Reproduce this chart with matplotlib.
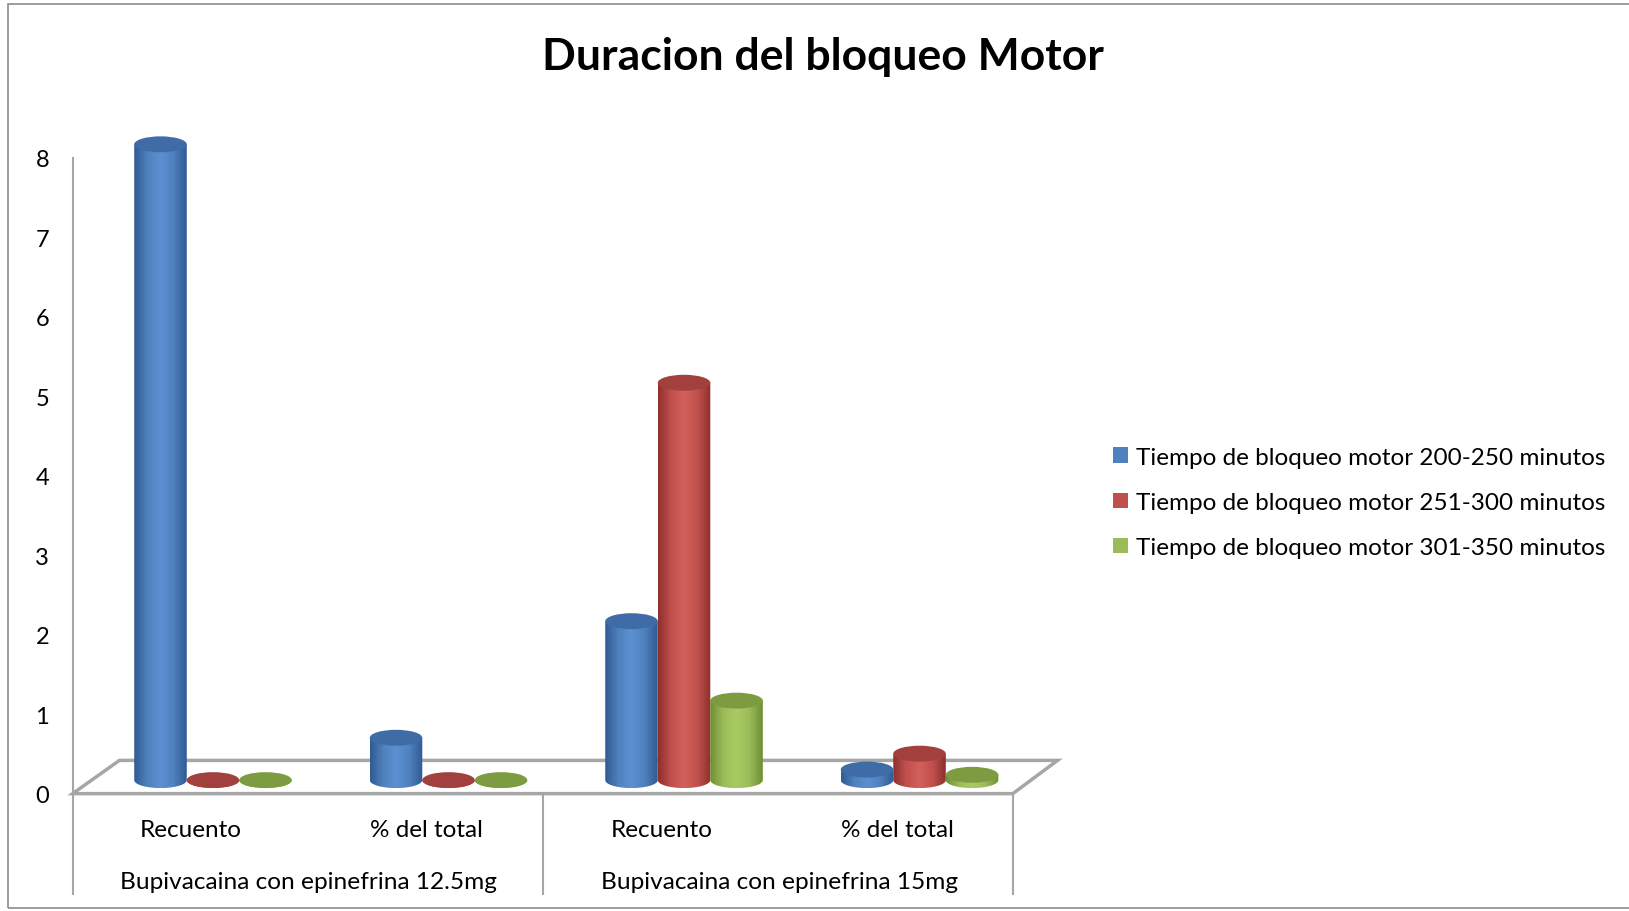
import numpy as np
import matplotlib.pyplot as plt
from matplotlib.patches import Ellipse, Polygon, Rectangle, Patch
from matplotlib.colors import LinearSegmentedColormap
import matplotlib.transforms as mtransforms

plt.rcParams['font.family'] = ['Lato', 'DejaVu Sans']

# Data
groups = ["Bupivacaina con epinefrina 12.5mg", "Bupivacaina con epinefrina 15mg"]
measures = ["Recuento", "% del total", "Recuento", "% del total"]
series = ["Tiempo de bloqueo motor 200-250 minutos",
          "Tiempo de bloqueo motor 251-300 minutos",
          "Tiempo de bloqueo motor 301-350 minutos"]
v_200_250 = [8, 0.533, 2, 0.133]
v_251_300 = [0, 0, 5, 0.333]
v_301_350 = [0, 0, 1, 0.067]
values = [v_200_250, v_251_300, v_301_350]

base_colors = ["#4F81BD", "#C0504D", "#9BBB59"]
edge_dark = ["#2F5A92", "#8E2F2D", "#6E8E33"]
mid_light = ["#5B90D2", "#D3605B", "#A9CB63"]
top_colors = ["#3F6CA6", "#A2403E", "#7D9B40"]

fig = plt.figure(figsize=(16.29, 9.12), dpi=100)

# outer frame
fig.patches.append(Rectangle((0.005, 0.003), 1.2, 0.991, transform=fig.transFigure,
                             fill=False, edgecolor="#8c8c8c", linewidth=1.2))

ax = fig.add_axes([0.0446, 0.1287, 0.6046, 0.7233])
bar_w = 0.223
ell = 0.2
x = np.arange(len(measures))


def cylinder(ax, xc, h, k, z):
    cmap = LinearSegmentedColormap.from_list(
        "c%d" % k, [edge_dark[k], base_colors[k], mid_light[k], base_colors[k], edge_dark[k]])
    t = np.linspace(np.pi, 2 * np.pi, 40)
    verts = [(xc - bar_w / 2, h)]
    verts += list(zip(xc + bar_w / 2 * np.cos(t), ell / 2 * np.sin(t)))
    verts += [(xc + bar_w / 2, h)]
    body = Polygon(verts, closed=True, facecolor="none", edgecolor="none",
                   transform=ax.transData)
    ax.add_patch(body)
    grad = np.linspace(0, 1, 256).reshape(1, -1)
    im = ax.imshow(grad, extent=(xc - bar_w / 2, xc + bar_w / 2, -ell / 2, h),
                   cmap=cmap, aspect="auto", zorder=z, interpolation="bilinear")
    im.set_clip_path(body)
    ax.add_patch(Ellipse((xc, h), bar_w, ell, facecolor=top_colors[k],
                         edgecolor="none", zorder=z + 0.1))


for k, vals in enumerate(values):
    for i, v in enumerate(vals):
        cylinder(ax, x[i] + (k - 1) * bar_w, v, k, 3 + k + i * 3)

ax.set_xlim(-0.596, 3.586)
ax.set_ylim(-0.17, 8.13)
ax.set_yticks(np.arange(9) - 0.17)
ax.set_yticklabels([str(i) for i in range(9)], fontsize=17)
ax.tick_params(axis="y", length=0, pad=17)
ax.set_xticks([])
for s in ax.spines.values():
    s.set_visible(False)
ax.patch.set_alpha(0)

# vertical axis line
ax.plot([0, 0], [0, 0.9638], transform=ax.transAxes, color="#a6a6a6", lw=1.5, clip_on=False)

# floor
floor = [(0, 0), (0.9546, 0), (1, 0.0504), (0.0475, 0.0504)]
ax.add_patch(Polygon(floor, closed=True, fill=False, edgecolor="#a6a6a6", lw=2.5,
                     transform=ax.transAxes, clip_on=False, zorder=1))

# category table
for xf in [0, 0.4778, 0.9546]:
    ax.plot([xf, xf], [0, -0.1528], transform=ax.transAxes, color="#a6a6a6", lw=1.5,
            clip_on=False)

trans = mtransforms.blended_transform_factory(ax.transData, ax.transAxes)
for i, m in enumerate(measures):
    ax.text(x[i] - 0.093, -0.054, m, transform=trans, ha="center", va="center", fontsize=17.5)
for g, name in enumerate(groups):
    ax.text(x[2 * g:2 * g + 2].mean() - 0.093, -0.133, name, transform=trans,
            ha="center", va="center", fontsize=17.6)

fig.text(0.505, 0.937, "Duracion del bloqueo Motor", ha="center", va="center",
         fontsize=32, fontweight="bold")

handles = [Patch(facecolor=c, edgecolor="none") for c in base_colors]
fig.legend(handles, series, loc="center left", bbox_to_anchor=(0.670, 0.448),
           frameon=False, fontsize=17.5, handlelength=0.6, handleheight=0.6,
           handletextpad=0.35, labelspacing=1.0)

fig.savefig("out.png", dpi=100)
